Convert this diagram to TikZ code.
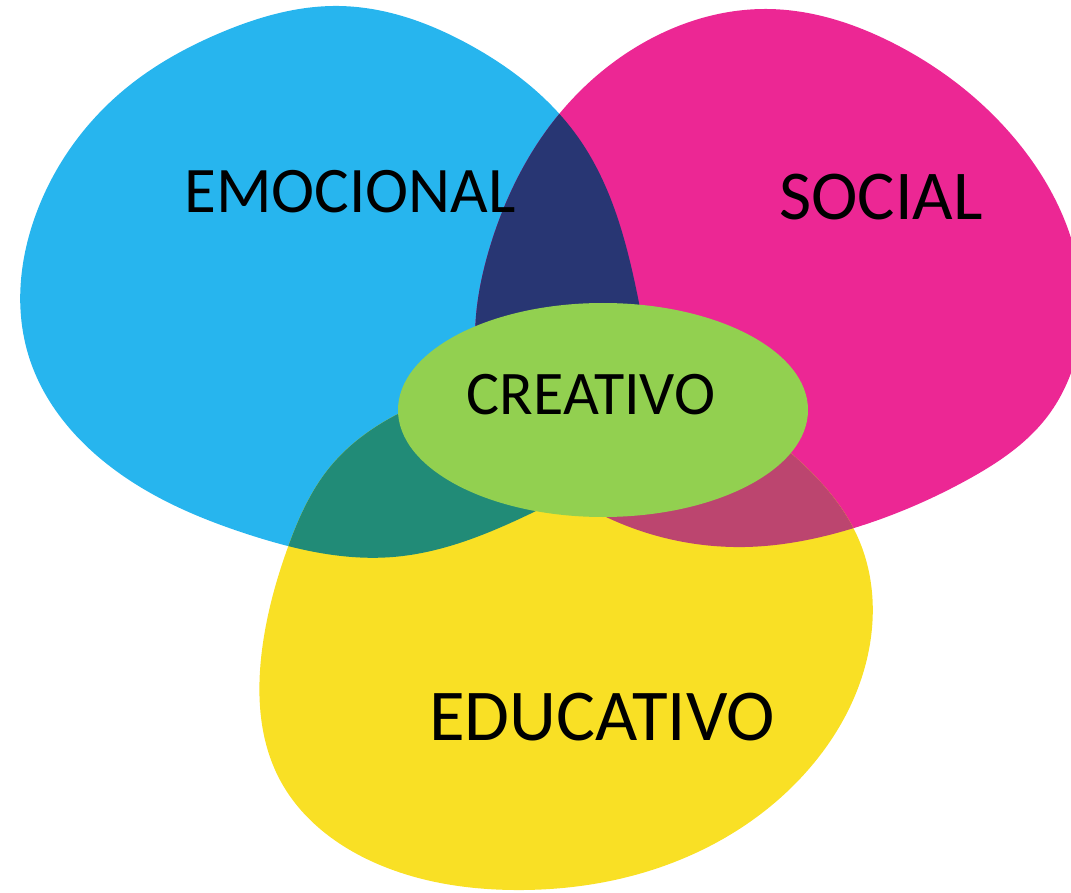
\documentclass[tikz,border=0pt]{standalone}
\usepackage{fontspec}
\setmainfont{Carlito}
\usetikzlibrary{hobby}
\definecolor{cblue}{HTML}{27B5EE}
\definecolor{cpink}{HTML}{EC2794}
\definecolor{cyellow}{HTML}{F9E025}
\definecolor{cgreen}{HTML}{92D050}
\definecolor{cnavy}{HTML}{283673}
\definecolor{cteal}{HTML}{218B77}
\definecolor{cmauve}{HTML}{BC456F}
\tikzset{lbl/.style={inner sep=0pt, text=black}}
\begin{document}
\begin{tikzpicture}[x=1pt,y=-1pt]
\useasboundingbox (0,0) rectangle (1071,893);
\clip (0,0) rectangle (1071,893);
\def\blueblob{plot[closed hobby] coordinates {
 (339,6) (470,45) (580,140) (637,293) (628,440) (536,511) (393,557)
 (250,535) (107,464) (29,357) (36,214) (125,89) (220,33)}}
\def\pinkblob{plot[closed hobby] coordinates {
 (767,9) (893,43) (1010,133) (1082,300) (1047,417) (967,480) (854,528)
 (745,547) (661,537) (560,490) (490,410) (489,250) (560,113) (643,43)}}
\def\yellowblob{plot[closed hobby] coordinates {
 (288,547) (262,650) (280,780) (380,865) (514,890) (661,867) (808,770)
 (871,637) (859,540) (793,455) (620,368) (455,390) (330,467)}}
\fill[cblue] \blueblob;
\fill[cpink] \pinkblob;
\fill[cyellow] \yellowblob;
\begin{scope}
 \clip \blueblob;
 \fill[cnavy] \pinkblob;
\end{scope}
\begin{scope}
 \clip \blueblob;
 \fill[cteal] \yellowblob;
\end{scope}
\begin{scope}
 \clip \pinkblob;
 \fill[cmauve] \yellowblob;
\end{scope}
\fill[cgreen] (603,410) ellipse [x radius=205, y radius=107];
\node[lbl, font=\fontsize{65}{78}\selectfont] (emo) at (350,192) {EMOCIONAL};
\node[lbl, font=\fontsize{70}{84}\selectfont] (soc) at (881,197) {SOCIAL};
\node[lbl, font=\fontsize{62}{74}\selectfont] (cre) at (591,395) {CREATIVO};
\node[lbl, font=\fontsize{73}{88}\selectfont] (edu) at (602,717) {EDUCATIVO};
\end{tikzpicture}
\end{document}
